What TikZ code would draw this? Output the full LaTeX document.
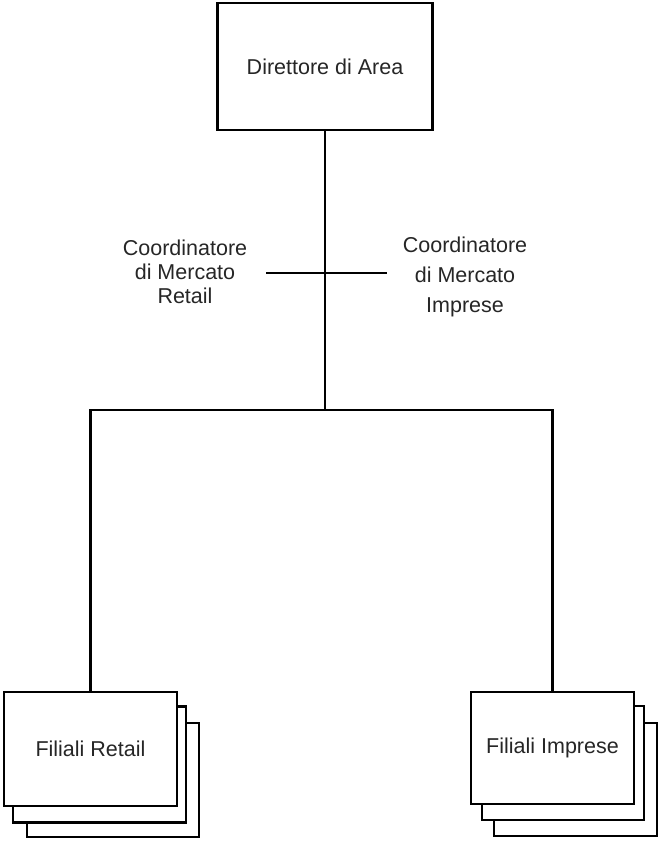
\documentclass[tikz,border=0pt]{standalone}
\usepackage{fontspec}
\setmainfont{Liberation Sans}
\begin{document}
\begin{tikzpicture}[x=1pt,y=-1pt,
  line width=2.3pt,
  box/.style={draw=black, fill=white, inner sep=0pt, outer sep=0pt, line width=2.3pt,
    text=black!85, font=\fontsize{21.5}{24}\selectfont},
  lbl/.style={inner sep=0pt, align=center, text=black!85},
  conn/.style={draw=black, line width=2.3pt}]
\useasboundingbox (0,0) rectangle (658,842);
% top box
\node[box, minimum width=215pt, minimum height=127pt] (dir) at (325,66.5) {Direttore di Area};
% bus coordinates
\coordinate (busc) at (325,410);
\coordinate (busl) at (90.5,410);
\coordinate (busr) at (552.5,410);
\coordinate (crl) at (266,273);
\coordinate (crr) at (387,273);
% left stack
\node[box, minimum width=172pt, minimum height=114pt] (fr3) at (113,780) {};
\node[box, minimum width=173pt, minimum height=116pt] (fr2) at (99.5,764.5) {};
\node[box, minimum width=173pt, minimum height=114pt] (fr) at (90.5,749) {Filiali Retail};
% right stack
\node[box, minimum width=163pt, minimum height=113pt] (fi3) at (575.5,779.5) {};
\node[box, minimum width=162pt, minimum height=114pt] (fi2) at (563,763) {};
\node[box, minimum width=163pt, minimum height=112pt] (fi) at (552.5,748) {Filiali Imprese};
% connectors
\draw[conn] (dir.south) -- (busc);
\draw[conn, line cap=rect] (busl) -- (busr);
\draw[conn] (busl) -- (fr.north);
\draw[conn] (busr) -- (fi.north);
\draw[conn] (crl) -- (crr);
% labels
\node[lbl, font=\fontsize{21.5}{24}\selectfont] (cmr) at (185,272) {Coordinatore\\di Mercato\\Retail};
\node[lbl, font=\fontsize{21.5}{30}\selectfont] (cmi) at (465,277) {Coordinatore\\di Mercato\\Imprese};
\end{tikzpicture}
\end{document}
